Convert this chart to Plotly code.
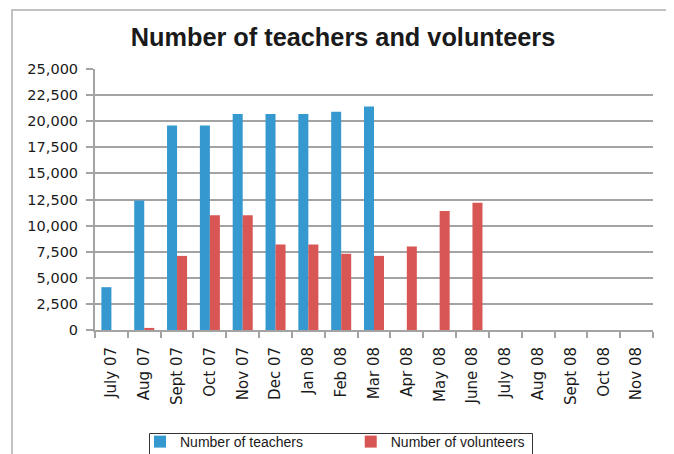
import plotly.graph_objects as go

months = ["July 07", "Aug 07", "Sept 07", "Oct 07", "Nov 07", "Dec 07", "Jan 08",
          "Feb 08", "Mar 08", "Apr 08", "May 08", "June 08", "July 08", "Aug 08",
          "Sept 08", "Oct 08", "Nov 08"]
teachers = [4100, 12400, 19600, 19600, 20700, 20700, 20700, 20900, 21400,
            None, None, None, None, None, None, None, None]
volunteers = [None, 200, 7100, 11000, 11000, 8200, 8200, 7300, 7100,
              8000, 11400, 12200, None, None, None, None, None]
y_ticks = list(range(0, 25001, 2500))

# the page puts the figure 8px in from the top-left corner of the window
OFF = 8
W, H = 674 - OFF, 454 - OFF
L, R, T, B = 95 - OFF, 21, 69 - OFF, 124
pw, ph = W - L - R, H - T - B

def px_x(x):  # window px -> paper
    return (x - OFF - L) / pw

def px_y(y):
    return (H - B - (y - OFF)) / ph

def cx(x):  # window px -> container
    return (x - OFF) / W

def cy(y):
    return 1 - (y - OFF) / H

pad = "&nbsp;" * 11

fig = go.Figure()
fig.add_trace(go.Bar(x=months, y=teachers, name="Number of teachers" + pad,
                     marker=dict(color="#3598cf", line=dict(width=0))))
fig.add_trace(go.Bar(x=months, y=volunteers, name="Number of volunteers",
                     marker=dict(color="#d85653", line=dict(width=0))))

grid = "#a3a3a3"
fig.update_layout(
    width=W, height=H,
    margin=dict(l=L, r=R, t=T, b=B, autoexpand=False),
    paper_bgcolor="white", plot_bgcolor="white",
    barmode="group", bargap=0.39, bargroupgap=0,
    title=dict(text="<b>Number of teachers and volunteers</b>",
               x=cx(343), xref="container", xanchor="center",
               y=cy(37.5), yref="container", yanchor="middle",
               font=dict(family="Liberation Sans, Arial", size=25.3, color="#1a1a1a")),
    xaxis=dict(type="category", tickangle=-90, ticks="outside", tickson="boundaries",
               ticklen=6, tickcolor=grid, tickwidth=1.5, showline=True, linecolor=grid,
               linewidth=2, showgrid=False, automargin=False,
               tickfont=dict(family="DejaVu Sans", size=15, color="#1a1a1a"),
               ticklabelstandoff=9),
    yaxis=dict(range=[0, 25000], tickvals=y_ticks, tickformat=",", ticks="outside",
               ticklen=7, tickcolor=grid, tickwidth=1.5, showline=True, linecolor=grid,
               linewidth=2, showgrid=True, gridcolor=grid, gridwidth=2,
               zeroline=False, automargin=False,
               tickfont=dict(family="DejaVu Sans", size=14.5, color="#1a1a1a"),
               ticklabelstandoff=5),
    legend=dict(orientation="h", xref="container", yref="container",
                x=cx(140), xanchor="left", y=cy(426), yanchor="top",
                borderwidth=0, bgcolor="rgba(0,0,0,0)",
                font=dict(family="Liberation Sans, Arial", size=14, color="#1a1a1a")),
    shapes=[
        dict(type="rect", xref="paper", yref="paper",
             x0=px_x(12), x1=px_x(669), y0=px_y(470), y1=px_y(10),
             line=dict(color="#c2c2c2", width=2), layer="below"),
        dict(type="rect", xref="paper", yref="paper",
             x0=px_x(149.5), x1=px_x(532.5), y0=px_y(470), y1=px_y(433.5),
             line=dict(color="#333333", width=1), fillcolor="rgba(0,0,0,0)", layer="above"),
    ],
)

fig.write_html("out.html")
